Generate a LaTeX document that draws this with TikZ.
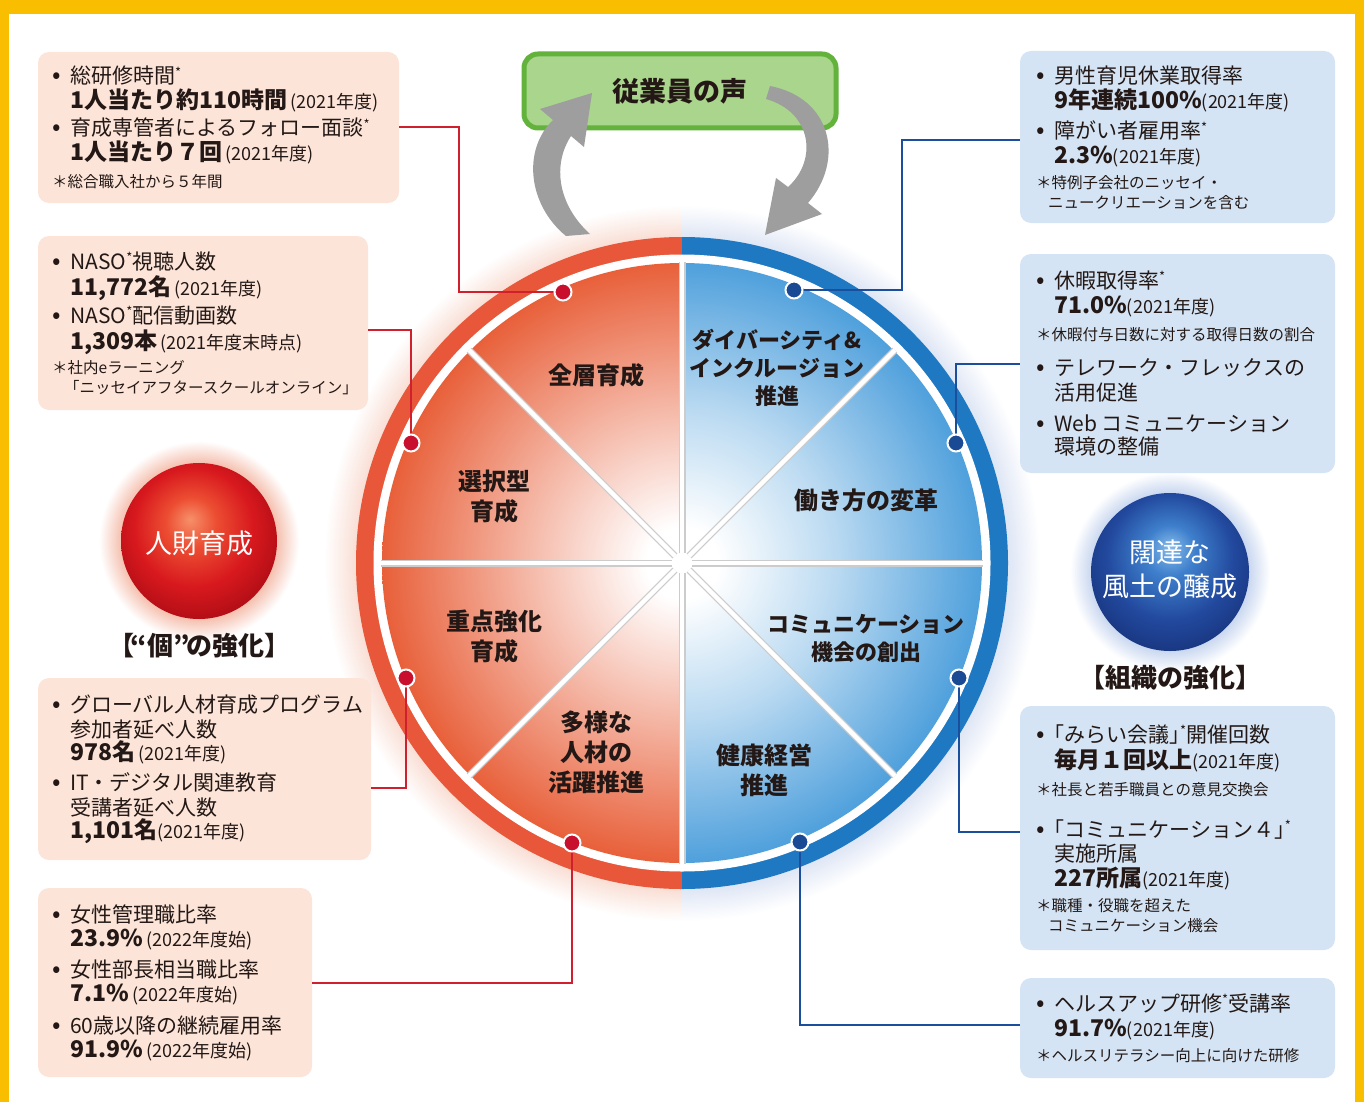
\documentclass[tikz,border=0pt]{standalone}
\usepackage{fontspec}
\setmainfont{Noto Sans CJK JP}
\definecolor{ringR}{HTML}{E8573A}
\definecolor{ringB}{HTML}{1E78C2}
\definecolor{inR}{HTML}{E8603A}
\definecolor{inB}{HTML}{4FA0DC}
\definecolor{boxR}{HTML}{FCE4D8}
\definecolor{boxB}{HTML}{D4E4F4}
\definecolor{lnR}{HTML}{D0202E}
\definecolor{lnB}{HTML}{1B4F9E}
\definecolor{dotR}{HTML}{C8102E}
\definecolor{dotB}{HTML}{1B4A94}
\definecolor{grnF}{HTML}{A9D58C}
\definecolor{grnD}{HTML}{62B23C}
\definecolor{yel}{HTML}{F9BE00}
\definecolor{txt}{HTML}{231815}
\definecolor{haloR}{HTML}{F7D3C6}
\definecolor{haloB}{HTML}{D3DDF1}
\definecolor{glowR}{HTML}{F4BBA8}
\definecolor{glowB}{HTML}{C2D2EE}
\definecolor{ballRa}{HTML}{F6906A}
\definecolor{ballRb}{HTML}{EC4E32}
\definecolor{ballRc}{HTML}{D8191E}
\definecolor{ballRd}{HTML}{A00812}
\definecolor{ballBa}{HTML}{86BBEA}
\definecolor{ballBb}{HTML}{3E7FCC}
\definecolor{ballBc}{HTML}{22499E}
\definecolor{ballBd}{HTML}{142C70}
\pgfdeclareradialshading{redhalf}{\pgfpoint{0bp}{0bp}}{color(0bp)=(white); color(3bp)=(white); color(13bp)=(inR!45); color(25bp)=(inR); color(50bp)=(inR)}
\pgfdeclareradialshading{bluehalf}{\pgfpoint{0bp}{0bp}}{color(0bp)=(white); color(3bp)=(white); color(13bp)=(inB!40); color(25bp)=(inB); color(50bp)=(inB)}
\pgfdeclareradialshading{haloRs}{\pgfpoint{0bp}{0bp}}{color(0bp)=(haloR); color(22bp)=(haloR); color(25bp)=(white); color(50bp)=(white)}
\pgfdeclareradialshading{haloBs}{\pgfpoint{0bp}{0bp}}{color(0bp)=(haloB); color(22bp)=(haloB); color(25bp)=(white); color(50bp)=(white)}
\pgfdeclareradialshading{glowRs}{\pgfpoint{0bp}{0bp}}{color(0bp)=(glowR); color(19bp)=(glowR); color(25bp)=(white); color(50bp)=(white)}
\pgfdeclareradialshading{glowBs}{\pgfpoint{0bp}{0bp}}{color(0bp)=(glowB); color(19bp)=(glowB); color(25bp)=(white); color(50bp)=(white)}
\pgfdeclareradialshading{redball}{\pgfpoint{-3bp}{7bp}}{color(0bp)=(ballRa); color(8bp)=(ballRb); color(19bp)=(ballRc); color(33bp)=(ballRd); color(50bp)=(ballRd)}
\pgfdeclareradialshading{blueball}{\pgfpoint{0bp}{8bp}}{color(0bp)=(ballBa); color(8bp)=(ballBb); color(20bp)=(ballBc); color(34bp)=(ballBd); color(50bp)=(ballBd)}
\newcommand\txN{\fontsize{21}{25}\selectfont\mdseries}
\newcommand\txB{\fontsize{23}{25}\selectfont\bfseries}
\newcommand\txP[1]{{\fontsize{18}{20}\selectfont\mdseries #1}}
\newcommand\txF{\fontsize{15.5}{18}\selectfont\mdseries}
\newcommand\Bul{\makebox[18pt][l]{{\fontsize{25}{25}\selectfont •}}}
\newcommand\Ind{\hspace*{18pt}}
\newcommand\sast{\raisebox{0.3em}{\fontsize{13}{13}\selectfont *}}
\newcommand\obr{\makebox[0.5em][r]{「}}
\newcommand\cbr{\makebox[0.5em][l]{」}}
\tikzset{
  tl/.style={anchor=base west, inner sep=0pt, text=txt},
  boxr/.style={fill=boxR, draw=none, rounded corners=11pt, inner sep=0pt},
  boxb/.style={fill=boxB, draw=none, rounded corners=11pt, inner sep=0pt},
  lnr/.style={draw=lnR, line width=2pt},
  lnb/.style={draw=lnB, line width=2pt},
  seclbl/.style={font=\fontsize{24}{30}\selectfont\bfseries, text=txt, align=center, inner sep=0pt},
  arrgray/.style={fill=black!38},
}
\begin{document}
\begin{tikzpicture}[x=1pt,y=-1pt]
\useasboundingbox (0,0) rectangle (1364,1102);
\fill[white] (0,0) rectangle (1364,1102);
\fill[yel] (0,0) rectangle (1364,14);
\fill[yel] (0,0) rectangle (9,1102);
\fill[yel] (1355,0) rectangle (1364,1102);

% ---------- central circle ----------
\coordinate (C) at (682,563);
\begin{scope}
  \clip (300,180) rectangle (682,950);
  \shade[shading=haloRs] (C) circle (358);
\end{scope}
\begin{scope}
  \clip (682,180) rectangle (1060,950);
  \shade[shading=haloBs] (C) circle (358);
\end{scope}
\begin{scope}
  \clip (340,220) rectangle (682,910);
  \draw[ringR, line width=18pt] (C) circle (317);
\end{scope}
\begin{scope}
  \clip (682,220) rectangle (1030,910);
  \draw[ringB, line width=18pt] (C) circle (317);
\end{scope}
\fill[white] (C) circle (308.5);
\begin{scope}
  \clip (C) circle (300);
  \clip (370,250) rectangle (682,880);
  \shade[shading=redhalf] (C) circle (300);
\end{scope}
\begin{scope}
  \clip (C) circle (300);
  \clip (682,250) rectangle (995,880);
  \shade[shading=bluehalf] (C) circle (300);
\end{scope}
\foreach \a in {0,45,...,315} {
  \draw[black!20, line width=7pt] (C) ++(\a:10) -- ++(\a:291);
  \draw[white, line width=4.5pt] (C) ++(\a:10) -- ++(\a:291);
}
\fill[white] (C) circle (10);

% sector labels
\node[seclbl] (s1) at (596,375) {全層育成};
\node[seclbl] (s2) at (494,497) {選択型\\育成};
\node[seclbl] (s3) at (494,637) {重点強化\\育成};
\node[seclbl] (s4) at (596,752) {多様な\\人材の\\活躍推進};
\node[seclbl, font=\fontsize{22}{28}\selectfont\bfseries] (s5) at (777,368) {ダイバーシティ\&\\インクルージョン\\推進};
\node[seclbl] (s6) at (866,500) {働き方の変革};
\node[seclbl, font=\fontsize{22}{28}\selectfont\bfseries] (s7) at (866,638) {コミュニケーション\\機会の創出};
\node[seclbl] (s8) at (764,770) {健康経営\\推進};

% ---------- voice box and arrows ----------
\node[draw=grnD, line width=5pt, fill=grnF, rounded corners=14pt, minimum width=312pt, minimum height=74pt,
      font=\fontsize{27}{30}\selectfont\bfseries, text=txt] (V) at (680,91) {従業員の声};
\fill[arrgray] (592,93) -- (584,147) -- (571,136) .. controls (552,165) and (558,205) .. (590,234)
  -- (566,236) .. controls (528,205) and (522,150) .. (553,120) -- (540,109) -- cycle;
\fill[arrgray] (765,235) -- (776,178) -- (788,187) .. controls (818,160) and (812,112) .. (766,99)
  -- (770,86) .. controls (832,98) and (845,160) .. (808,203) -- (822,214) -- cycle;

% ---------- spheres ----------
\shade[shading=glowRs] (199,541) circle (100);
\shade[shading=redball] (199,541) circle (78);
\node[text=white, font=\fontsize{27}{30}\selectfont] (ballR) at (199,543) {人財育成};
\node[font=\fontsize{26}{30}\selectfont\bfseries, text=txt] (capR) at (199,646)
  {\makebox[0.55em][r]{【}\makebox[0.5em][r]{“}個\makebox[0.5em][l]{”}の強化\makebox[0.55em][l]{】}};
\shade[shading=glowBs] (1170,572) circle (100);
\shade[shading=blueball] (1170,572) circle (79);
\node[text=white, font=\fontsize{27}{34}\selectfont, align=center] (ballB) at (1170,569) {闊達な\\風土の醸成};
\node[font=\fontsize{26}{30}\selectfont\bfseries, text=txt] (capB) at (1170,678)
  {\makebox[0.55em][r]{【}組織の強化\makebox[0.55em][l]{】}};

% ---------- boxes ----------
\node[boxr, minimum width=361pt, minimum height=151pt] (B1) at (218.5,127.5) {};
\node[boxr, minimum width=330pt, minimum height=174pt] (B2) at (203,323) {};
\node[boxr, minimum width=333pt, minimum height=182pt] (B3) at (204.5,769) {};
\node[boxr, minimum width=274pt, minimum height=189pt] (B4) at (175,982.5) {};
\node[boxb, minimum width=315pt, minimum height=172pt] (B5) at (1177.5,137) {};
\node[boxb, minimum width=315pt, minimum height=219pt] (B6) at (1177.5,363.5) {};
\node[boxb, minimum width=315pt, minimum height=244pt] (B7) at (1177.5,828) {};
\node[boxb, minimum width=315pt, minimum height=100pt] (B8) at (1177.5,1028) {};

% ---------- connectors ----------
\coordinate (dR1) at (563,292);
\coordinate (dR2) at (411,443);
\coordinate (dR3) at (406,678);
\coordinate (dR4) at (572,843);
\coordinate (dB1) at (794,290);
\coordinate (dB2) at (956,443);
\coordinate (dB3) at (959,678);
\coordinate (dB4) at (800,842);
\draw[lnr] (B1.east) -- ++(60,0) |- (dR1);
\draw[lnr] (dR2) |- (B2.east |- 0,330);
\draw[lnr] (dR3) |- (B3.east |- 0,788);
\draw[lnr] (dR4) |- (B4.east);
\draw[lnb] (B5.west |- 0,140) -- ++(-118,0) |- (dB1);
\draw[lnb] (dB2) |- (B6.west);
\draw[lnb] (dB3) |- (B7.west |- 0,832);
\draw[lnb] (dB4) |- (B8.west |- 0,1025);
\foreach \d in {dR1,dR2,dR3,dR4} \filldraw[fill=dotR, draw=white, line width=2pt] (\d) circle (8.5);
\foreach \d in {dB1,dB2,dB3,dB4} \filldraw[fill=dotB, draw=white, line width=2pt] (\d) circle (8.5);

% ---------- box texts ----------
\foreach \yy/\tx [count=\k] in {
  84/{\Bul 総研修時間\sast},
  109/{\Ind{\txB 1人当たり約110時間}\,\txP{(2021年度)}},
  136/{\Bul 育成専管者によるフォロー面談\sast},
  161/{\Ind{\txB 1人当たり７回}\,\txP{(2021年度)}},
  187/{\txF ＊総合職入社から５年間}}
  \node[tl] (ta\k) at (52,\yy) {\txN\tx};
\foreach \yy/\tx [count=\k] in {
  269/{\Bul NASO\sast 視聴人数},
  295/{\Ind{\txB 11,772名}\,\txP{(2021年度)}},
  323/{\Bul NASO\sast 配信動画数},
  349/{\Ind{\txB 1,309本}\,\txP{(2021年度末時点)}},
  373/{\txF ＊社内eラーニング},
  393/{\txF\hspace*{12pt}「ニッセイアフタースクールオンライン」}}
  \node[tl] (tb\k) at (52,\yy) {\txN\tx};
\foreach \yy/\tx [count=\k] in {
  712/{\Bul グローバル人材育成プログラム},
  737/{\Ind 参加者延べ人数},
  760/{\Ind{\txB 978名}\,\txP{(2021年度)}},
  790/{\Bul IT・デジタル関連教育},
  815/{\Ind 受講者延べ人数},
  838/{\Ind{\txB 1,101名}\txP{(2021年度)}}}
  \node[tl] (tc\k) at (52,\yy) {\txN\tx};
\foreach \yy/\tx [count=\k] in {
  922/{\Bul 女性管理職比率},
  946/{\Ind{\txB 23.9\%}\,\txP{(2022年度始)}},
  977/{\Bul 女性部長相当職比率},
  1001/{\Ind{\txB 7.1\%}\,\txP{(2022年度始)}},
  1033/{\Bul 60歳以降の継続雇用率},
  1057/{\Ind{\txB 91.9\%}\,\txP{(2022年度始)}}}
  \node[tl] (td\k) at (52,\yy) {\txN\tx};
\foreach \yy/\tx [count=\k] in {
  84/{\Bul 男性育児休業取得率},
  109/{\Ind{\txB 9年連続100\%}\txP{(2021年度)}},
  139/{\Bul 障がい者雇用率\sast},
  164/{\Ind{\txB 2.3\%}\txP{(2021年度)}},
  189/{\txF ＊特例子会社のニッセイ・},
  208/{\txF\hspace*{12pt}ニュークリエーションを含む}}
  \node[tl] (te\k) at (1036,\yy) {\txN\tx};
\foreach \yy/\tx [count=\k] in {
  288/{\Bul 休暇取得率\sast},
  313/{\Ind{\txB 71.0\%}\txP{(2021年度)}},
  340/{\txF ＊休暇付与日数に対する取得日数の割合},
  375/{\Bul テレワーク・フレックスの},
  400/{\Ind 活用促進},
  431/{\Bul Web コミュニケーション},
  454/{\Ind 環境の整備}}
  \node[tl] (tf\k) at (1036,\yy) {\txN\tx};
\foreach \yy/\tx [count=\k] in {
  742/{\Bul \obr みらい会議\cbr\sast 開催回数},
  768/{\Ind{\txB 毎月１回以上}\txP{(2021年度)}},
  795/{\txF ＊社長と若手職員との意見交換会},
  837/{\Bul \obr コミュニケーション４\cbr\sast},
  861/{\Ind 実施所属},
  886/{\Ind{\txB 227所属}\txP{(2021年度)}},
  911/{\txF ＊職種・役職を超えた},
  931/{\txF\hspace*{12pt}コミュニケーション機会}}
  \node[tl] (tg\k) at (1036,\yy) {\txN\tx};
\foreach \yy/\tx [count=\k] in {
  1011/{\Bul ヘルスアップ研修\sast 受講率},
  1036/{\Ind{\txB 91.7\%}\txP{(2021年度)}},
  1061/{\txF ＊ヘルスリテラシー向上に向けた研修}}
  \node[tl] (th\k) at (1036,\yy) {\txN\tx};
\end{tikzpicture}
\end{document}
